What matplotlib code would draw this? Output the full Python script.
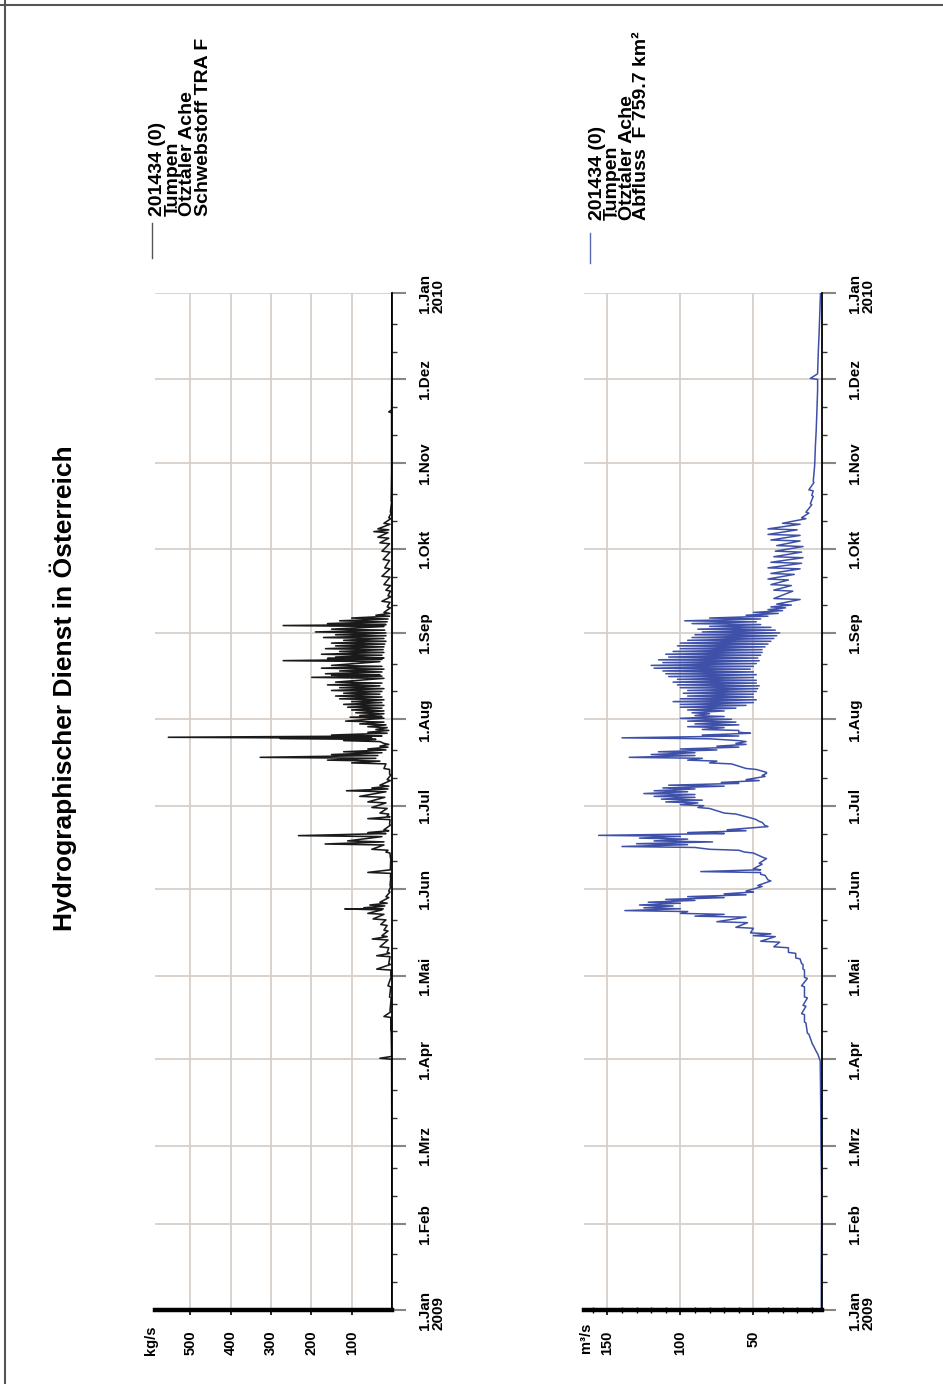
import numpy as np
import matplotlib
matplotlib.use('Agg')
import matplotlib.pyplot as plt
from matplotlib.lines import Line2D
from matplotlib.ticker import FixedLocator, NullFormatter

plt.rcParams['font.family'] = ['Liberation Sans', 'DejaVu Sans']

# --- Time axis (day of year 2009)
month_start = [0, 31, 59, 90, 120, 151, 181, 212, 243, 273, 304, 334, 365]
month_labels = ['1.Jan\n2009', '1.Feb', '1.Mrz', '1.Apr', '1.Mai', '1.Jun', '1.Jul',
                '1.Aug', '1.Sep', '1.Okt', '1.Nov', '1.Dez', '1.Jan\n2010']

# --- Schwebstoff (kg/s): day, daily low, daily high
s_day = [0, 60, 89, 90, 91, 100, 105, 107, 112, 116, 119.6, 122, 124, 126.8, 128, 130,
         132.8, 134, 136, 138, 140, 142, 143.6, 144, 145, 146, 148, 150, 152, 155, 156.7,
         158, 162, 164, 165, 166.9, 168, 169.9, 171, 172, 174, 176, 177, 178, 180, 182,
         184, 186, 187, 188, 190, 192, 194, 196, 197, 198, 199, 200, 201, 202, 203, 204,
         204.8, 205.2, 206, 207, 208, 209, 210, 211, 212.4, 213, 214, 215, 216, 217, 218,
         219, 220, 221, 222, 223, 224, 225, 226.7, 227.5, 228, 229, 230, 231, 232.7,
         233.5, 234, 235, 236, 237, 238, 239, 240, 241, 242, 243, 244, 245.3, 246, 247,
         248, 249, 250, 252, 254, 256, 258, 260, 263, 266, 269, 272, 275, 277, 279, 280,
         282, 284, 286, 290, 300, 322, 323, 340, 365]
s_lo = [0.5, 0.5, 1, 1, 1, 2, 3, 3, 2, 3, 2, 3, 4, 5, 6, 8,
        10, 12, 10, 12, 15, 20, 25, 22, 18, 12, 8, 5, 3, 3, 3,
        3, 3, 5, 10, 20, 20, 25, 15, 8, 4, 5, 5, 8, 12, 15,
        18, 15, 10, 8, 4, 3, 6, 15, 30, 40, 35, 25, 15, 10, 8, 30,
        40, 50, 25, 12, 8, 12, 15, 20, 20, 25, 20, 20, 25, 20, 25,
        20, 25, 30, 25, 20, 30, 25, 20, 25, 30, 25, 20, 25, 30,
        25, 20, 25, 20, 22, 20, 18, 15, 20, 15, 15, 18, 20, 15, 12,
        10, 6, 5, 4, 5, 3, 4, 4, 5, 5, 6, 5, 6, 8, 10, 8,
        5, 3, 2, 1, 1, 1, 1, 0.5, 0.5]
s_hi = [0.5, 0.5, 1, 30, 1, 3, 20, 5, 6, 10, 3, 38, 8, 38, 12, 30,
        49, 25, 20, 28, 47, 60, 117, 70, 55, 30, 15, 8, 5, 4, 60,
        4, 4, 15, 50, 166, 110, 232, 60, 20, 6, 60, 12, 30, 50, 60,
        80, 113, 50, 30, 12, 6, 20, 100, 160, 327, 150, 120, 60, 30, 20, 120,
        278, 555, 150, 60, 40, 60, 80, 115, 104, 80, 90, 100, 110, 120, 100,
        130, 140, 120, 150, 130, 160, 140, 199, 150, 165, 130, 175, 150, 270,
        160, 140, 175, 130, 165, 140, 150, 120, 170, 140, 190, 150, 270, 160, 130,
        100, 40, 20, 12, 25, 10, 15, 20, 25, 18, 22, 25, 30, 35, 45, 35,
        20, 8, 4, 2, 1, 8, 1, 0.5, 0.5]

# --- Abfluss (m3/s): day, daily low, daily high
q_day = [0, 15, 31, 45, 59, 70, 80, 89, 92, 95, 99, 103, 106, 109, 112, 116, 119, 122,
         124, 126, 128, 130, 132, 134, 135, 137, 139, 141, 142, 143, 144, 145, 146, 147,
         148, 149, 150, 152, 154, 156, 157, 158, 160, 162, 164, 165, 166, 167, 168, 169,
         170, 171, 172, 173.5, 175, 176, 178, 180, 181, 182, 183, 184, 185, 186, 187,
         188, 189, 190, 191.5, 192.6, 194, 196, 197, 198, 199, 200, 201, 202, 203, 204,
         205, 206, 207, 208, 209, 210, 211, 212, 213, 214, 215, 216, 217, 218, 219, 220,
         221, 222, 223, 224, 225, 226, 227, 228, 229, 230, 231, 232, 233, 234, 235, 236,
         237, 238, 239, 240, 241, 242, 243, 244, 245, 246, 247, 248, 249, 250, 251, 252,
         253, 255, 258, 260, 262, 264, 266, 268, 270, 272, 274, 276, 278, 280, 282, 284,
         286, 289, 292, 294, 297, 303, 310, 315, 322, 330, 334, 336, 344, 350, 358, 365]
q_lo = [3.5, 3.5, 3.3, 3.3, 3.7, 3.8, 4, 4.2, 6, 9, 12, 14, 15, 14, 13, 15, 13, 15,
        16, 18, 21, 26, 32, 35, 38, 50, 54, 55, 70, 95, 100, 105, 100, 90,
        70, 55, 50, 44, 38, 42, 45, 45, 44, 41, 50, 60, 90, 95, 78, 95,
        100, 70, 55, 40, 44, 48, 62, 80, 84, 88, 85, 90, 90, 95, 90,
        70, 60, 46, 42, 41, 48, 65, 75, 85, 90, 90, 75, 60, 55, 55,
        80, 60, 52, 60, 70, 60, 62, 65, 70, 80, 70, 62, 55, 50, 48, 50,
        50, 48, 47, 46, 48, 48, 50, 48, 50, 52, 50, 48, 46, 47, 45, 44,
        44, 42, 40, 38, 36, 34, 32, 35, 38, 45, 48, 45, 40, 33, 30, 28,
        24, 18, 23, 24, 26, 22, 18, 17, 16, 17, 16, 18, 18, 20, 18, 14,
        12, 10, 9, 9, 8.5, 8, 7.5, 7, 6.5, 6, 6, 6, 5.5, 5, 4.5, 4]
q_hi = [3.5, 3.5, 3.3, 3.3, 3.7, 3.8, 4, 4.2, 6.5, 9.5, 13, 15, 17, 16, 15, 17, 15, 16,
        17, 21, 26, 36, 45, 50, 52, 62, 75, 90, 100, 138, 125, 128, 122, 110,
        95, 70, 55, 47, 40, 45, 86, 50, 46, 43, 56, 80, 140, 130, 118, 128,
        156, 95, 68, 42, 46, 50, 70, 88, 100, 110, 113, 118, 125, 118, 112,
        108, 72, 55, 44, 41, 55, 80, 95, 135, 120, 115, 100, 75, 62, 60,
        140, 85, 60, 85, 95, 90, 95, 100, 90, 92, 95, 100, 100, 105, 100, 95,
        98, 95, 100, 102, 105, 102, 108, 110, 112, 118, 120, 112, 115, 108, 110, 105,
        100, 102, 100, 95, 92, 90, 85, 88, 80, 92, 97, 80, 55, 50, 40, 38,
        34, 36, 36, 38, 40, 38, 40, 38, 36, 35, 34, 38, 40, 40, 30, 17,
        14, 11, 10, 12, 9, 8, 7.5, 7, 6.5, 6, 11, 6, 5.5, 5, 4.5, 4]


def zigzag(day, lo, hi, step=0.35):
    # daily low followed by daily high, gives the diurnal saw-tooth look
    ys, xs = [], []
    for d, a, b in zip(day, lo, hi):
        ys += [d, d + step]
        xs += [a, b]
    return np.array(xs), np.array(ys)


W, H = 943, 1384
fig = plt.figure(figsize=(W / 100, H / 100), dpi=100)
fig.patch.set_facecolor('white')

grid_col = '#d8cfc8'
bold = dict(fontweight='bold')


def px(x, y):
    return x / W, 1 - y / H


def make_axes(x0, x1, y0=293, y1=1310):
    ax = fig.add_axes([x0 / W, 1 - y1 / H, (x1 - x0) / W, (y1 - y0) / H])
    ax.set_ylim(0, 365)
    for s in ['left', 'top']:
        ax.spines[s].set_visible(False)
    ax.spines['right'].set_linewidth(1.3)
    ax.spines['bottom'].set_linewidth(3.2)
    ax.yaxis.set_ticks_position('right')
    ax.set_yticks(month_start)
    ax.set_yticklabels(month_labels)
    minors = [m + k for m in month_start[:-1] for k in (10, 20)]
    ax.yaxis.set_minor_locator(FixedLocator(minors))
    ax.tick_params(axis='y', which='major', direction='out', length=10, width=1.5,
                   color='#8a8580', pad=9, labelsize=11, labelrotation=90)
    ax.tick_params(axis='y', which='minor', direction='out', length=3.5, width=1,
                   color='#333333')
    for lab in ax.get_yticklabels():
        lab.set_va('center')
        lab.set_ha('left')
        lab.set_fontweight('bold')
        lab.set_linespacing(0.9)
    ax.tick_params(axis='x', which='major', direction='out', length=3.5, width=1.2,
                   pad=11, labelsize=10.5, labelrotation=90)
    ax.grid(True, which='major', color=grid_col, linewidth=1.3)
    ax.set_axisbelow(True)
    return ax


# --- Top panel: Schwebstoff
ax1 = make_axes(155, 392)
xs, ys = zigzag(s_day, s_lo, s_hi)
ax1.plot(xs, ys, color='#1a1a1a', lw=1.15)
ax1.set_xlim(588, 0)
ax1.set_xticks([100, 200, 300, 400, 500])
for lab in ax1.get_xticklabels():
    lab.set_fontweight('bold')

# --- Bottom panel: Abfluss
ax2 = make_axes(584, 822)
xs, ys = zigzag(q_day, q_lo, q_hi)
ax2.plot(xs, ys, color='#3e50a8', lw=1.1)
ax2.set_xlim(166, 3)
ax2.set_xticks([50, 100, 150])
ax2.xaxis.set_minor_locator(FixedLocator(np.arange(10, 170, 10)))
ax2.xaxis.set_minor_formatter(NullFormatter())
ax2.tick_params(axis='x', which='minor', direction='inout', length=4, width=1)
for lab in ax2.get_xticklabels():
    lab.set_fontweight('bold')

# --- units
fig.text(*px(151, 1340), 'kg/s', rotation=90, ha='center', va='center', fontsize=10.5, **bold)
fig.text(*px(586, 1338), 'm³/s', rotation=90, ha='center', va='center', fontsize=10.5, **bold)

# --- title
fig.text(*px(63, 688), 'Hydrographischer Dienst in Österreich', rotation=90,
         ha='center', va='center', fontsize=19, **bold)

# --- legend blocks
top_lines = ['201434 (0)', 'Tumpen', 'Ötztaler Ache', 'Schwebstoff TRA F']
bot_lines = ['201434 (0)', 'Tumpen', 'Ötztaler Ache', 'Abfluss  F 759.7 km²']
for i, t in enumerate(top_lines):
    fig.text(*px(158 + 15 * i, 216), t, rotation=90, ha='center', va='bottom',
             fontsize=14, **bold)
for i, t in enumerate(bot_lines):
    fig.text(*px(597 + 15 * i, 220), t, rotation=90, ha='center', va='bottom',
             fontsize=14, **bold)
fig.add_artist(Line2D([152 / W, 152 / W], [1 - 258 / H, 1 - 223 / H], color='#555555', lw=1))
fig.add_artist(Line2D([590 / W, 590 / W], [1 - 263 / H, 1 - 233 / H], color='#5a66b0', lw=1))

# --- page frame (top and left edge)
fig.add_artist(Line2D([0, 1], [1 - 4.5 / H, 1 - 4.5 / H], color='#555555', lw=1.5))
fig.add_artist(Line2D([5 / W, 5 / W], [0, 1], color='#555555', lw=1.5))

fig.savefig('out.png', dpi=100)
